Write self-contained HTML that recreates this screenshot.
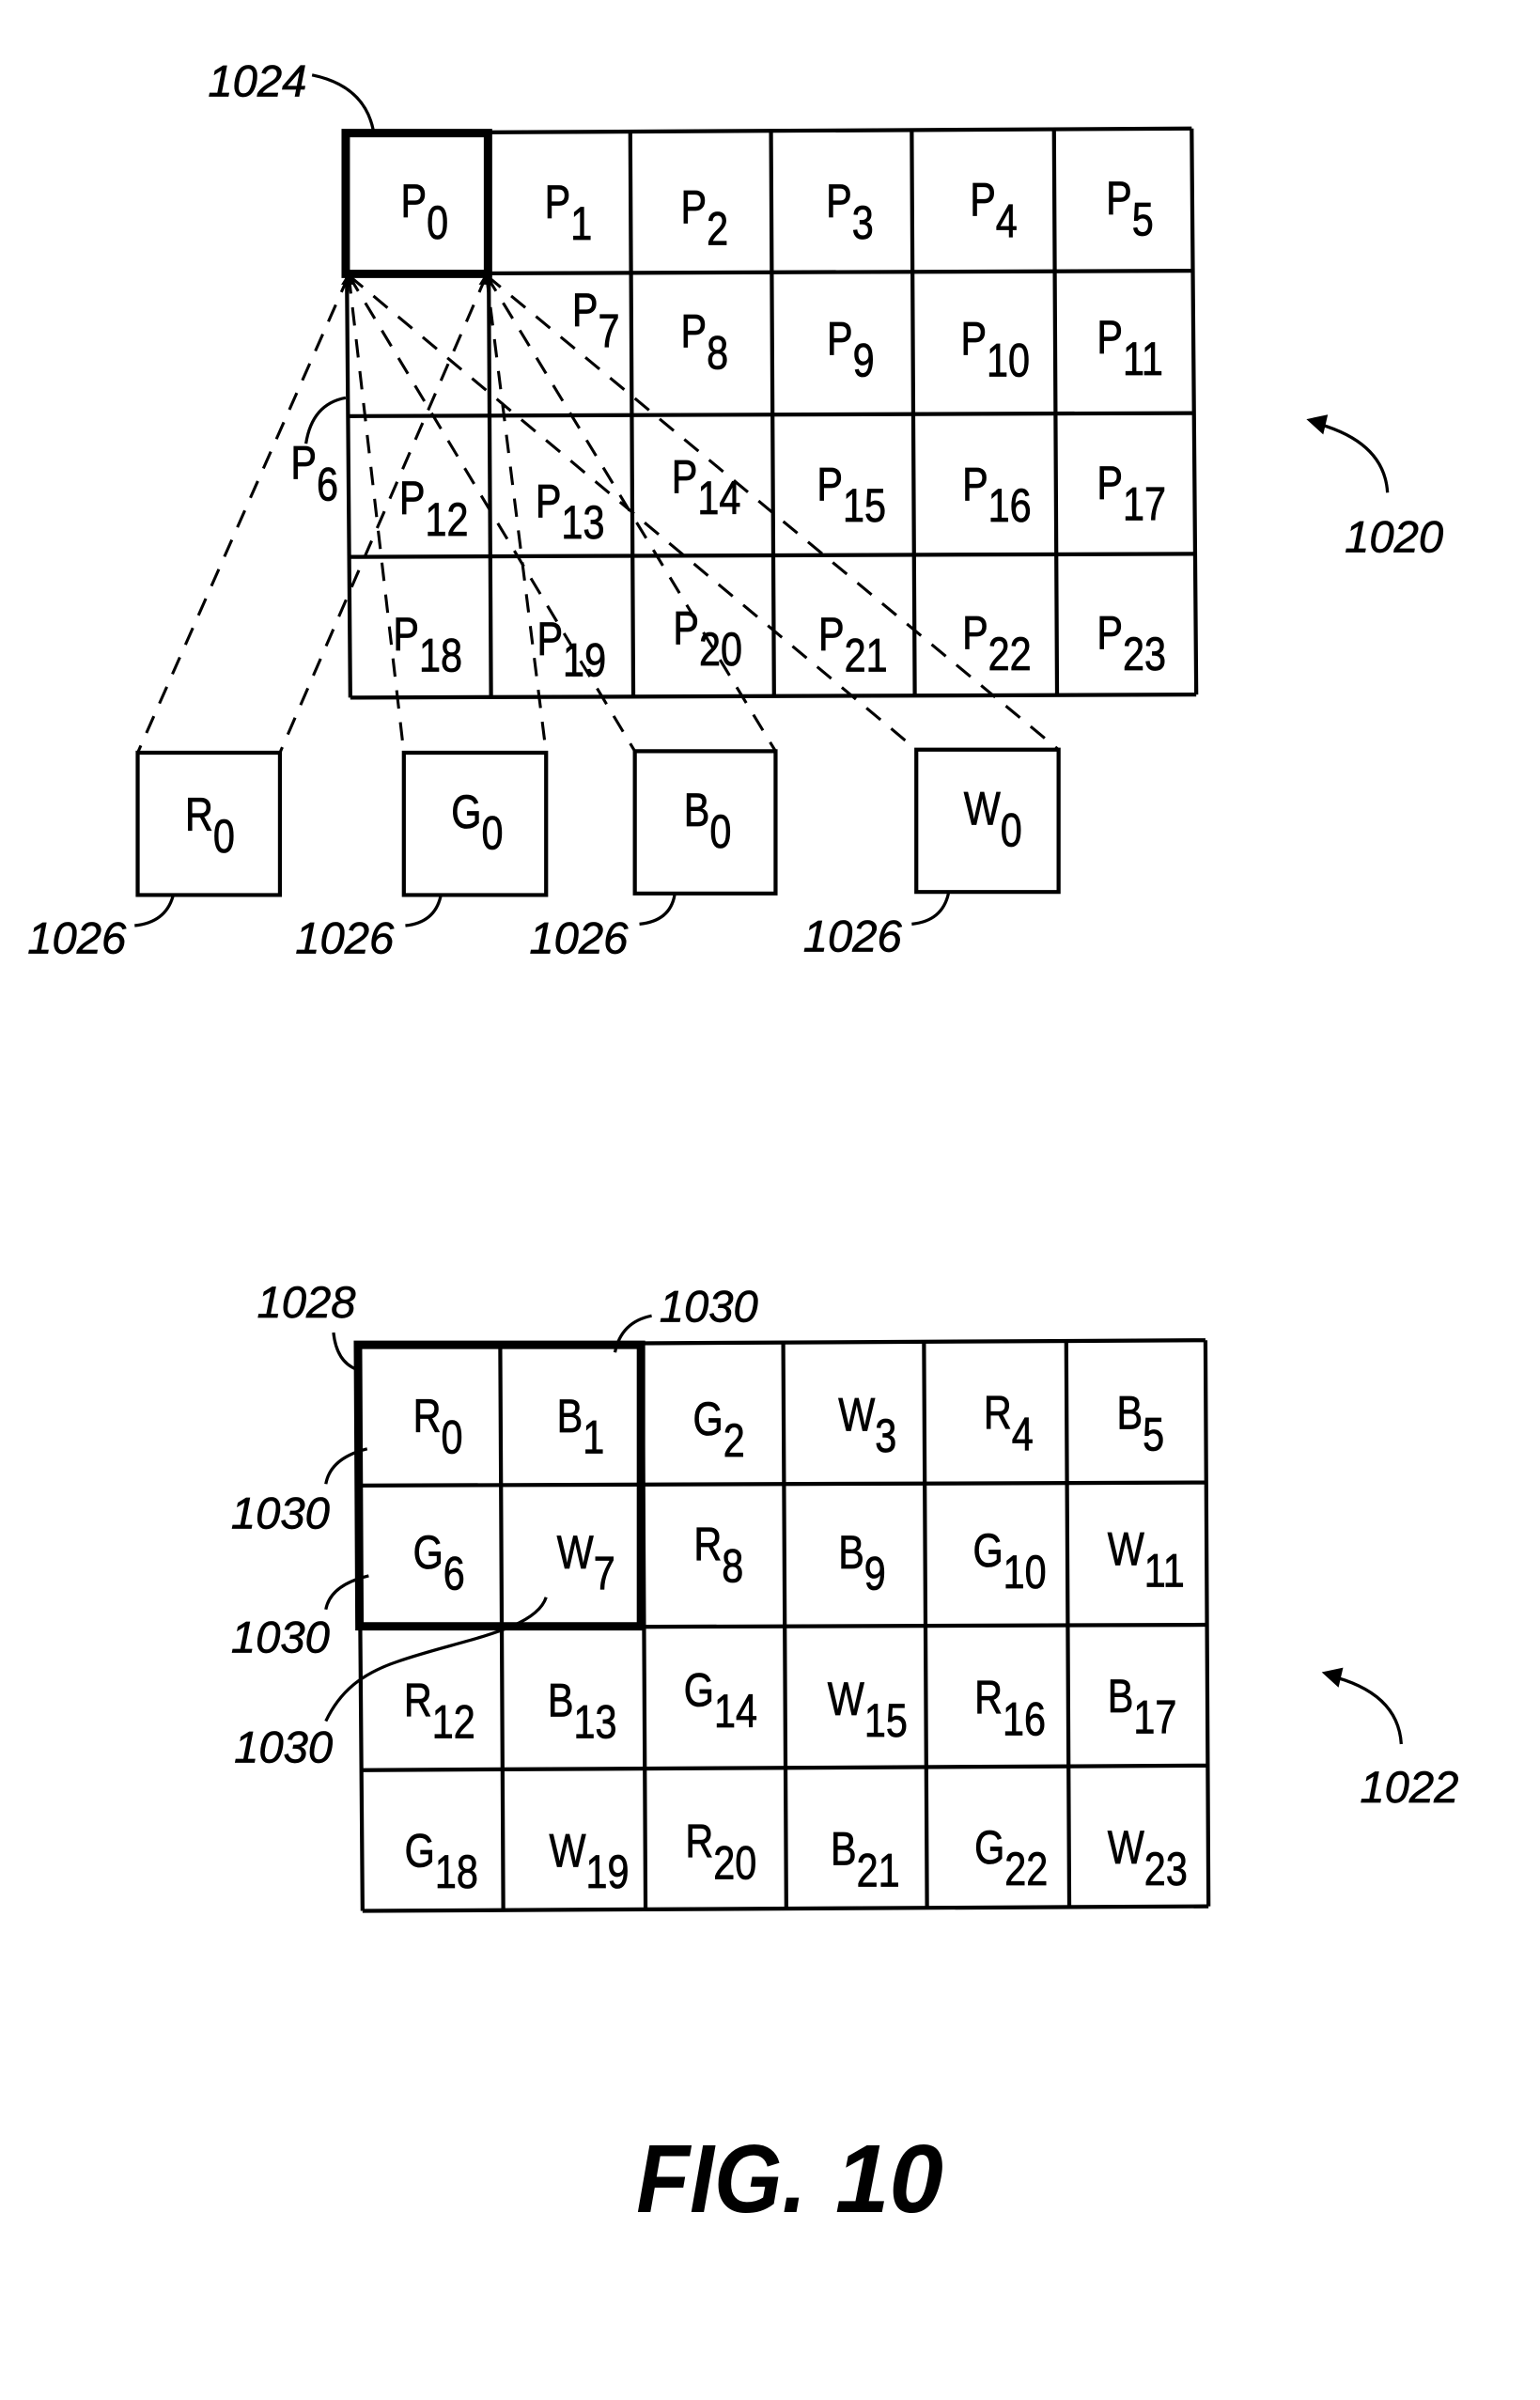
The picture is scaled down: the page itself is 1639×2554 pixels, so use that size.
<!DOCTYPE html>
<html><head><meta charset="utf-8"><style>
html,body{margin:0;padding:0;background:#fff}
svg{display:block}
.t{font-family:"Liberation Sans",sans-serif;font-size:31px;fill:#000;stroke:#000;stroke-width:.5}
.n{font-family:"Liberation Sans",sans-serif;font-size:29px;font-style:italic;fill:#000;stroke:#000;stroke-width:.4}
.g{stroke:#000;stroke-width:2.6;fill:none}
.k{stroke:#000;stroke-width:5.5;fill:none}
.d{stroke:#000;stroke-width:1.9;fill:none;stroke-dasharray:12 9}
.c{stroke:#000;stroke-width:2;fill:none}
</style></head><body>
<svg width="1639" height="2554" viewBox="0 0 1006.7 1568.7" xmlns="http://www.w3.org/2000/svg">
<rect width="1006.7" height="1568.7" fill="#fff"/>
<g class="g">
<path d="M226 87L779 84M227 179L780 177M228 272L781 270M228 364L781 362M229 456L782 454"/>
<path d="M226 87L229 456M319 87L321 456M412 86L414 455M504 86L506 455M596 85L598 455M689 84L691 454M779 84L782 454"/>
<path d="M90 492H183V585H90ZM264 492H357V585H264ZM415 491H507V584H415ZM599 490H692V583H599Z"/>
<path d="M234 879L788 876M235 971L788 969M236 1064L789 1062M236 1157L790 1154M237 1249L790 1246"/>
<path d="M234 879L237 1249M327 879L329 1249M420 878L422 1248M512 878L514 1248M604 877L606 1247M697 876L699 1247M788 876L790 1246"/>
</g>
<path class="k" d="M226 87H319V179H226Z"/>
<path class="k" d="M234 879H419V1063H235Z"/>
<g class="d">
<path d="M228 180L90 492M318 180L183 492M228 180L264 492M318 180L357 492M228 180L415 491M318 180L507 491M228 180L599 490M318 180L692 490"/>
</g>
<path d="M228 178l-5 8h9zM318 178l-5 8h9z" fill="#000"/>
<g class="c">
<path d="M204 49Q238 56 244 85"/>
<path d="M226 260Q204 264 200 290"/>
<path d="M907 322Q905 288 858 276"/>
<path d="M88 605Q108 603 113 586M265 605Q284 603 288 586M418 604Q438 602 441 585M596 604Q616 602 620 584"/>
<path d="M218 871Q220 890 233 895"/>
<path d="M426 860Q406 864 402 884"/>
<path d="M240 947Q216 953 213 970M241 1030Q216 1036 213 1052"/>
<path d="M357 1044C350 1066 300 1072 260 1086C236 1094 222 1106 213 1125"/>
<path d="M916 1140Q914 1106 868 1095"/>
</g>
<path d="M854 274l14-3-3 13zM864 1093l14-3-3 13z" fill="#000"/>
<g class="t">
<text transform="translate(262,142) scale(.82,1)">P<tspan dy="14">0</tspan></text>
<text transform="translate(356,142.5) scale(.82,1)">P<tspan dy="14">1</tspan></text>
<text transform="translate(445,146) scale(.82,1)">P<tspan dy="14">2</tspan></text>
<text transform="translate(540,142) scale(.82,1)">P<tspan dy="14">3</tspan></text>
<text transform="translate(634,141) scale(.82,1)">P<tspan dy="14">4</tspan></text>
<text transform="translate(723,140) scale(.82,1)">P<tspan dy="14">5</tspan></text>
<text transform="translate(190,313) scale(.82,1)">P<tspan dy="14">6</tspan></text>
<text transform="translate(374,213) scale(.82,1)">P<tspan dy="14">7</tspan></text>
<text transform="translate(445,227) scale(.82,1)">P<tspan dy="14">8</tspan></text>
<text transform="translate(540.5,232) scale(.82,1)">P<tspan dy="14">9</tspan></text>
<text transform="translate(628,232) scale(.82,1)">P<tspan dy="14">10</tspan></text>
<text transform="translate(717,231) scale(.82,1)">P<tspan dy="14">11</tspan></text>
<text transform="translate(261,336) scale(.82,1)">P<tspan dy="14">12</tspan></text>
<text transform="translate(350,338) scale(.82,1)">P<tspan dy="14">13</tspan></text>
<text transform="translate(439,322) scale(.82,1)">P<tspan dy="14">14</tspan></text>
<text transform="translate(534,327) scale(.82,1)">P<tspan dy="14">15</tspan></text>
<text transform="translate(629,327) scale(.82,1)">P<tspan dy="14">16</tspan></text>
<text transform="translate(717,326) scale(.82,1)">P<tspan dy="14">17</tspan></text>
<text transform="translate(257,425) scale(.82,1)">P<tspan dy="14">18</tspan></text>
<text transform="translate(351,428) scale(.82,1)">P<tspan dy="14">19</tspan></text>
<text transform="translate(440,421) scale(.82,1)">P<tspan dy="14">20</tspan></text>
<text transform="translate(535,425) scale(.82,1)">P<tspan dy="14">21</tspan></text>
<text transform="translate(629,424) scale(.82,1)">P<tspan dy="14">22</tspan></text>
<text transform="translate(717,424) scale(.82,1)">P<tspan dy="14">23</tspan></text>
<text transform="translate(121,543) scale(.82,1)">R<tspan dy="14">0</tspan></text>
<text transform="translate(295,541) scale(.82,1)">G<tspan dy="14">0</tspan></text>
<text transform="translate(447,540) scale(.82,1)">B<tspan dy="14">0</tspan></text>
<text transform="translate(630,539) scale(.82,1)">W<tspan dy="14">0</tspan></text>
<text transform="translate(270,936) scale(.82,1)">R<tspan dy="14">0</tspan></text>
<text transform="translate(364,936) scale(.82,1)">B<tspan dy="14">1</tspan></text>
<text transform="translate(453,938) scale(.82,1)">G<tspan dy="14">2</tspan></text>
<text transform="translate(548,935) scale(.82,1)">W<tspan dy="14">3</tspan></text>
<text transform="translate(643,934) scale(.82,1)">R<tspan dy="14">4</tspan></text>
<text transform="translate(730,934) scale(.82,1)">B<tspan dy="14">5</tspan></text>
<text transform="translate(270,1025) scale(.82,1)">G<tspan dy="14">6</tspan></text>
<text transform="translate(364,1025) scale(.82,1)">W<tspan dy="14">7</tspan></text>
<text transform="translate(453.5,1020) scale(.82,1)">R<tspan dy="14">8</tspan></text>
<text transform="translate(548,1025) scale(.82,1)">B<tspan dy="14">9</tspan></text>
<text transform="translate(636,1024) scale(.82,1)">G<tspan dy="14">10</tspan></text>
<text transform="translate(724,1023) scale(.82,1)">W<tspan dy="14">11</tspan></text>
<text transform="translate(264,1122) scale(.82,1)">R<tspan dy="14">12</tspan></text>
<text transform="translate(358,1122) scale(.82,1)">B<tspan dy="14">13</tspan></text>
<text transform="translate(447,1115) scale(.82,1)">G<tspan dy="14">14</tspan></text>
<text transform="translate(541,1121) scale(.82,1)">W<tspan dy="14">15</tspan></text>
<text transform="translate(637,1120) scale(.82,1)">R<tspan dy="14">16</tspan></text>
<text transform="translate(724,1119) scale(.82,1)">B<tspan dy="14">17</tspan></text>
<text transform="translate(264.5,1220) scale(.82,1)">G<tspan dy="14">18</tspan></text>
<text transform="translate(359,1220) scale(.82,1)">W<tspan dy="14">19</tspan></text>
<text transform="translate(448,1214) scale(.82,1)">R<tspan dy="14">20</tspan></text>
<text transform="translate(543,1219) scale(.82,1)">B<tspan dy="14">21</tspan></text>
<text transform="translate(637,1218) scale(.82,1)">G<tspan dy="14">22</tspan></text>
<text transform="translate(724,1218) scale(.82,1)">W<tspan dy="14">23</tspan></text>
</g>
<g class="n">
<text x="136" y="63">1024</text>
<text x="879" y="361">1020</text>
<text x="18" y="623">1026</text>
<text x="193" y="623">1026</text>
<text x="346" y="623">1026</text>
<text x="525" y="622">1026</text>
<text x="168" y="861">1028</text>
<text x="431" y="864">1030</text>
<text x="151" y="999">1030</text>
<text x="151" y="1080">1030</text>
<text x="153" y="1152">1030</text>
<text x="889" y="1178">1022</text>
</g>
<g font-family="Liberation Sans, sans-serif" font-size="63.5" font-weight="bold" font-style="italic" fill="#000">
<text transform="translate(416,1446) scale(.9,1)">FIG.</text>
<text x="546" y="1446">10</text>
</g>
</svg>
</body></html>
